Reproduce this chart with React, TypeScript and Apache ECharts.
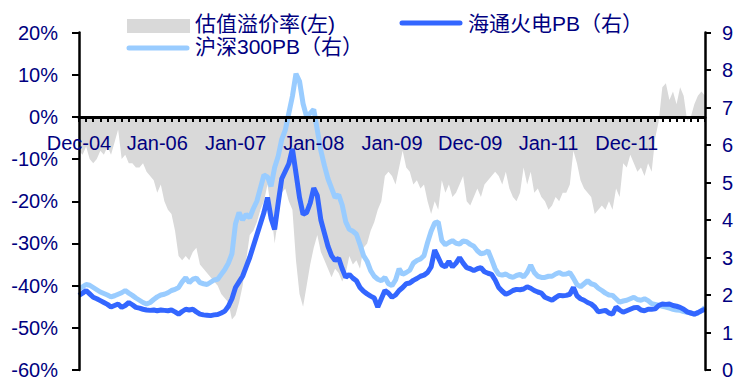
import React, { useEffect, useRef } from "react";
import * as echarts from "echarts";

// Date labels shown on the category axis, one every LABEL_STEP points
const dateLabels = ["Dec-04", "Jan-06", "Jan-07", "Jan-08", "Jan-09", "Dec-09", "Jan-11", "Dec-11"];
const LABEL_STEP = 22;

const NAME_PREMIUM = "估值溢价率(左)";
const NAME_HT = "海通火电PB（右）";
const NAME_HS300 = "沪深300PB（右）";

// Valuation premium, % (left axis)
const premium = [
  -8, -9, -7, -10, -11, -10, -8, -9, -7, -9,
  -6, -3, -10, -9, -11, -11, -12, -12, -11, -13,
  -14, -15, -18, -16, -20, -22, -23, -27, -33, -34,
  -33, -34, -32, -31, -35, -36, -37, -38, -39, -40,
  -42, -43, -44, -48, -47, -44, -40, -34, -28, -27,
  -25, -22, -20, -16, -22, -30, -24, -18, -17, -20,
  -22, -34, -42, -45, -40, -35, -31, -28, -32, -34,
  -36, -38, -36, -37, -39, -37, -33, -35, -34, -36,
  -31, -30, -27, -25, -22, -20, -14, -13, -14, -16,
  -12, -8, -12, -13, -16, -15, -17, -16, -20, -23,
  -20, -22, -15, -18, -16, -19, -18, -16, -14, -20,
  -21, -19, -17, -19, -16, -15, -14, -13, -14, -16,
  -13, -17, -19, -20, -18, -12, -16, -13, -18, -17,
  -19, -20, -22, -21, -19, -20, -18, -18, -16, -8,
  -11, -15, -17, -18, -19, -23, -22, -21, -22, -20,
  -22, -17, -19, -11, -12, -9, -11, -13, -12, -14,
  -11, -13, -5, -1, 7, 8, 4, 6, 3, 7,
  5, -1, 0, 3, 5, 6, 5,
];

// CSI 300 PB (right axis)
const hs300PB = [
  2.16, 2.22, 2.28, 2.26, 2.2, 2.14, 2.08, 2.04, 2.0, 1.95,
  1.98, 2.02, 2.06, 2.12, 2.05, 1.99, 1.92, 1.86, 1.8, 1.76,
  1.8, 1.88, 1.95, 2.0, 2.02, 2.06, 2.12, 2.15, 2.2, 2.35,
  2.46, 2.33, 2.42, 2.45, 2.33, 2.3, 2.28, 2.34, 2.4, 2.42,
  2.55, 2.68, 2.85, 3.1, 3.9, 4.2, 4.0, 4.15, 4.06, 4.3,
  4.5, 4.85, 5.2, 5.15, 4.9, 5.4, 5.7, 6.15, 6.4, 6.85,
  7.3, 7.9, 7.7, 7.1, 6.75, 6.85, 6.95, 6.4, 5.85, 5.45,
  5.1, 4.85, 4.6, 4.67, 4.4, 3.95, 3.75, 3.7, 3.62, 3.35,
  3.05, 2.9, 2.65, 2.5, 2.42, 2.38, 2.47, 2.3, 2.25, 2.4,
  2.7, 2.55, 2.6, 2.66, 2.85, 2.92, 2.96, 3.05, 3.4, 3.7,
  3.92, 3.95, 3.45, 3.34, 3.4, 3.45, 3.38, 3.36, 3.44, 3.42,
  3.35, 3.3, 3.18, 3.1, 3.12, 3.18, 2.95, 2.7, 2.55, 2.53,
  2.56, 2.5, 2.47, 2.52, 2.55, 2.48, 2.6, 2.8, 2.6, 2.5,
  2.47, 2.47, 2.5, 2.5, 2.56, 2.6, 2.55, 2.56, 2.6, 2.45,
  2.28, 2.22, 2.3, 2.38, 2.3, 2.27, 2.18, 2.12, 2.05, 2.0,
  1.99, 1.9, 1.81, 1.84, 1.86, 1.9, 1.94, 1.88, 1.86, 1.9,
  1.85, 1.77, 1.75, 1.73, 1.7, 1.68, 1.65, 1.62, 1.6, 1.59,
  1.56, 1.54, 1.52, 1.49, 1.52, 1.58, 1.67,
];

// Haitong thermal power PB (right axis)
const htPB = [
  1.99, 2.05, 2.12, 2.03, 1.94, 1.9, 1.85, 1.8, 1.75, 1.68,
  1.72, 1.76, 1.67, 1.72, 1.8, 1.74, 1.67, 1.65, 1.62, 1.6,
  1.59, 1.6, 1.58, 1.6, 1.59, 1.58, 1.6, 1.55, 1.49, 1.56,
  1.62, 1.6, 1.62, 1.55, 1.49, 1.47, 1.46, 1.45, 1.47, 1.48,
  1.52, 1.57, 1.7, 1.9, 2.2, 2.35, 2.5, 2.75, 3.0, 3.3,
  3.6, 3.9, 4.2, 4.6, 4.05, 3.75, 4.45, 5.1, 5.3, 5.5,
  5.9, 5.25, 4.6, 4.15, 4.2, 4.45, 4.85, 4.65, 4.0, 3.65,
  3.3, 3.05, 2.92, 2.98, 2.7, 2.47, 2.55, 2.45, 2.38, 2.2,
  2.1, 2.03, 1.97, 1.92, 1.68, 1.9, 2.12, 2.05, 1.94, 2.0,
  2.12, 2.2, 2.3, 2.32, 2.39, 2.44, 2.5, 2.53, 2.6, 2.75,
  3.2, 3.0, 2.8, 2.75, 2.9, 2.75, 2.85, 3.0, 2.85, 2.73,
  2.7, 2.65, 2.7, 2.73, 2.62, 2.58, 2.55, 2.4, 2.2, 2.1,
  2.02, 2.06, 2.12, 2.15, 2.14, 2.16, 2.22, 2.18, 2.12, 2.08,
  2.05, 1.94, 1.9, 1.86, 1.93, 1.99, 1.98, 1.99, 2.02, 2.2,
  1.98, 1.9, 1.86, 1.8, 1.76, 1.68, 1.55, 1.57, 1.59, 1.52,
  1.49, 1.68, 1.6, 1.54, 1.58, 1.62, 1.66, 1.67, 1.6, 1.58,
  1.62, 1.62, 1.63, 1.72, 1.76, 1.75, 1.76, 1.72, 1.7, 1.67,
  1.62, 1.55, 1.52, 1.49, 1.53, 1.58, 1.62,
];

const categories = premium.map((_, i) => String(i));

const NAVY = "#000080";
const GRAY = "#D9D9D9";
const DARK_BLUE = "#3366FF";
const LIGHT_BLUE = "#99CCFF";
const FONT = '"Liberation Sans", Arial, "Noto Sans CJK SC", sans-serif';

// Plot frame
const GRID_LEFT = 79;
const GRID_RIGHT = 31;
const GRID_TOP = 32.5;
const GRID_BOTTOM = 11;
const CHART_H = 381;
const LEFT_MIN = -60;
const LEFT_MAX = 20;
const LINE_W = 5;

export default function App() {
  const ref = useRef<HTMLDivElement>(null);

  useEffect(() => {
    document.body.style.margin = "0";
    if (!ref.current) return;
    const chart = echarts.init(ref.current, undefined, { renderer: "svg" });

    // the category axis sits on the 0% line of the left axis
    const plotH = CHART_H - GRID_TOP - GRID_BOTTOM;
    const zeroFromBottom = ((0 - LEFT_MIN) / (LEFT_MAX - LEFT_MIN)) * plotH;

    const legendText = (x: number, y: number, text: string) => ({
      type: "text",
      x,
      y,
      style: {
        text,
        fontSize: 21,
        fontFamily: FONT,
        fill: NAVY,
        verticalAlign: "middle",
        align: "left",
      },
    });

    chart.setOption({
      animation: false,
      backgroundColor: "#ffffff",
      grid: {
        left: GRID_LEFT,
        right: GRID_RIGHT,
        top: GRID_TOP,
        bottom: GRID_BOTTOM,
        containLabel: false,
        outerBoundsMode: "none",
      },
      xAxis: {
        type: "category",
        data: categories,
        boundaryGap: false,
        position: "bottom",
        offset: -zeroFromBottom,
        z: 10,
        axisLine: {
          show: true,
          onZero: false,
          lineStyle: { color: "#000", width: 3 },
        },
        axisTick: {
          show: true,
          interval: 1,
          length: 5,
          lineStyle: { color: "#000", width: 2 },
        },
        axisLabel: {
          interval: (idx: number) => idx % LABEL_STEP === 0 && idx / LABEL_STEP < dateLabels.length,
          formatter: (_v: string, idx: number) => dateLabels[idx / LABEL_STEP] ?? "",
          color: NAVY,
          fontSize: 20,
          fontFamily: FONT,
          margin: 16,
        },
        splitLine: { show: false },
      },
      yAxis: [
        {
          type: "value",
          min: LEFT_MIN,
          max: LEFT_MAX,
          interval: 10,
          position: "left",
          z: 10,
          axisLine: { show: true, onZero: false, lineStyle: { color: "#000", width: 2.5 } },
          axisTick: { show: true, length: 7, lineStyle: { color: "#000", width: 2 } },
          axisLabel: {
            formatter: "{value}%",
            color: NAVY,
            fontSize: 20,
            lineHeight: 18,
            fontFamily: FONT,
            margin: 21,
          },
          splitLine: { show: false },
        },
        {
          type: "value",
          min: 0,
          max: 9,
          interval: 1,
          position: "right",
          z: 10,
          axisLine: { show: true, onZero: false, lineStyle: { color: "#000", width: 2.5 } },
          axisTick: { show: true, length: 6, lineStyle: { color: "#000", width: 2 } },
          axisLabel: {
            color: NAVY,
            fontSize: 20,
            lineHeight: 18,
            fontFamily: FONT,
            margin: 17,
          },
          splitLine: { show: false },
        },
      ],
      series: [
        {
          name: NAME_PREMIUM,
          type: "line",
          yAxisIndex: 0,
          data: premium,
          symbol: "none",
          lineStyle: { width: 0, color: GRAY },
          areaStyle: { color: GRAY, opacity: 1 },
          z: 1,
        },
        {
          name: NAME_HS300,
          type: "line",
          yAxisIndex: 1,
          data: hs300PB,
          symbol: "none",
          lineStyle: { width: LINE_W, color: LIGHT_BLUE },
          z: 2,
        },
        {
          name: NAME_HT,
          type: "line",
          yAxisIndex: 1,
          data: htPB,
          symbol: "none",
          lineStyle: { width: LINE_W, color: DARK_BLUE },
          z: 3,
        },
      ],
      graphic: [
        { type: "rect", shape: { x: 127, y: 19, width: 63, height: 14 }, style: { fill: GRAY } },
        legendText(195, 23, NAME_PREMIUM),
        {
          type: "line",
          shape: { x1: 402, y1: 23, x2: 460, y2: 23 },
          style: { stroke: DARK_BLUE, lineWidth: LINE_W, lineCap: "round" },
        },
        legendText(468, 23, NAME_HT),
        {
          type: "line",
          shape: { x1: 129, y1: 48, x2: 187, y2: 48 },
          style: { stroke: LIGHT_BLUE, lineWidth: LINE_W, lineCap: "round" },
        },
        legendText(195, 46, NAME_HS300),
      ],
    });

    return () => chart.dispose();
  }, []);

  return <div ref={ref} style={{ width: 736, height: 381 }} />;
}
